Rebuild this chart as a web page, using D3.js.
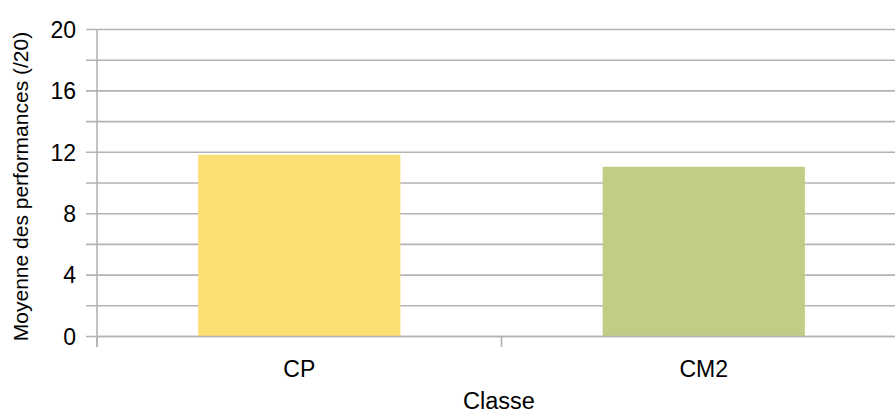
<!DOCTYPE html>
<html><head><meta charset="utf-8">
<script src="https://cdn.jsdelivr.net/npm/d3@7"></script>
<style>body{margin:0;background:#fff}svg{display:block}text{font-family:"Liberation Sans",Arial,sans-serif;fill:#000}</style>
</head><body>
<svg id="c" width="895" height="412"></svg>
<script>
const categories = ["CP", "CM2"];
const values = [11.84, 11.06];
const colors = ["#fcdf73", "#c1cd85"];
const yTicks = [0, 4, 8, 12, 16, 20];
const yGrid = [0, 2, 4, 6, 8, 10, 12, 14, 16, 18, 20];
const yTitle = "Moyenne des performances (/20)";
const xTitle = "Classe";

const svg = d3.select("#c");
const x0 = 97, x1 = 906, yb = 336.5, yt = 29.5;
const x = d3.scaleBand().domain(categories).range([x0, x1]).paddingInner(0.5).paddingOuter(0.25);
const y = d3.scaleLinear().domain([0, 20]).range([yb, yt]);

// gridlines
svg.append("g").selectAll("line").data(yGrid).join("line")
  .attr("x1", 86).attr("x2", 895).attr("y1", d => y(d)).attr("y2", d => y(d))
  .attr("stroke", "#b3b3b3").attr("stroke-width", 1.6);

// bars
svg.append("g").selectAll("rect").data(values).join("rect")
  .attr("x", (d, i) => x(categories[i])).attr("width", x.bandwidth())
  .attr("y", d => y(d)).attr("height", d => yb - y(d))
  .attr("fill", (d, i) => colors[i]);

// y axis line
svg.append("line").attr("x1", x0).attr("x2", x0).attr("y1", yt).attr("y2", 347)
  .attr("stroke", "#b3b3b3").attr("stroke-width", 1.6);
// x axis baseline
svg.append("line").attr("x1", x0).attr("x2", 895).attr("y1", yb).attr("y2", yb)
  .attr("stroke", "#b3b3b3").attr("stroke-width", 1.6);
// x ticks at band boundaries
const bounds = [x0, (x(categories[0]) + x.bandwidth() + x(categories[1])) / 2, x1];
svg.append("g").selectAll("line").data(bounds).join("line")
  .attr("x1", d => d).attr("x2", d => d).attr("y1", yb).attr("y2", 347)
  .attr("stroke", "#b3b3b3").attr("stroke-width", 1.6);

// y tick labels
svg.append("g").selectAll("text").data(yTicks).join("text")
  .attr("x", 76).attr("y", d => y(d)).attr("dy", "0.36em")
  .attr("text-anchor", "end").attr("font-size", 23).text(d => d);

// x labels
svg.append("g").selectAll("text").data(categories).join("text")
  .attr("x", d => x(d) + x.bandwidth() / 2).attr("y", 377)
  .attr("text-anchor", "middle").attr("font-size", 23).text(d => d);

svg.append("text").attr("x", 499).attr("y", 408.5).attr("text-anchor", "middle")
  .attr("font-size", 23.5).text(xTitle);

svg.append("text").attr("transform", "translate(28,186.5) rotate(-90)")
  .attr("text-anchor", "middle").attr("font-size", 21).text(yTitle);
</script>
</body></html>
